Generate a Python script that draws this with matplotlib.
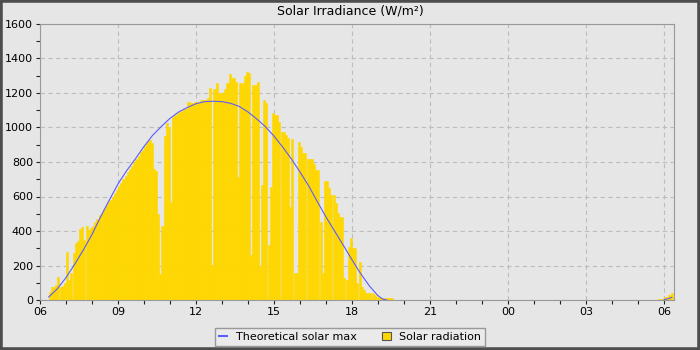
import numpy as np
import matplotlib
matplotlib.use("Agg")
import matplotlib.pyplot as plt
from matplotlib.patches import Patch, Rectangle
from matplotlib.lines import Line2D
from matplotlib.ticker import MultipleLocator, FuncFormatter

gold = "#FFD700"
line_blue = "#5c5cff"
bg = "#e6e6e6"

# solar radiation, 5-minute samples starting 06:20
step_h = 5 / 60
day_start = 6 + 20 / 60
day_radiation = [
    45, 73, 73, 85, 131, 77, 80, 97, 280, 116, 155, 270, 332, 340, 410, 425,
    345, 429, 406, 420, 430, 450, 470, 490, 505, 525, 545, 562, 580, 598, 620,
    640, 660, 680, 700, 720, 740, 758, 778, 800, 815, 835, 860, 872, 895, 912,
    930, 912, 760, 748, 500, 150, 431, 950, 1024, 1000, 570, 1059, 1070, 1085,
    1090, 1095, 1105, 1110, 1150, 1140, 1140, 1145, 1150, 1150, 1160, 1160,
    1160, 1170, 1227, 203, 1221, 1256, 1198, 1198, 1198, 1221, 1256, 1310,
    1285, 1285, 1265, 715, 1260, 1260, 1298, 1323, 1318, 261, 1246, 1246, 1265,
    200, 667, 1159, 1140, 319, 657, 1086, 1072, 1072, 1034, 976, 976, 956, 937,
    541, 931, 155, 155, 918, 889, 850, 850, 815, 815, 815, 790, 753, 753, 454,
    155, 692, 692, 647, 609, 609, 560, 502, 483, 483, 126, 116, 309, 357, 299,
    299, 97, 222, 77, 58, 39, 39, 39, 39, 30, 19, 19, 12, 12, 12, 12, 12, 10,
]
# next morning, starting 05:45 (hours past 24)
morning_start = 24 + 5 + 45 / 60
morning_radiation = [4, 4, 4, 15, 15, 29, 42]

# theoretical solar max (hour of day, W/m2)
theory_hours = [6.333, 6.667, 7.0, 7.333, 7.667, 8.0, 8.333, 8.667, 9.0, 9.333,
                9.667, 10.0, 10.333, 10.667, 11.0, 11.333, 11.667, 12.0, 12.333,
                12.667, 13.0, 13.333, 13.667, 14.0, 14.333, 14.667, 15.0, 15.333,
                15.667, 16.0, 16.333, 16.667, 17.0, 17.333, 17.667, 18.0, 18.333,
                18.667, 19.0, 19.167, 19.333]
theory_values = [17, 65, 130, 207, 290, 380, 483, 580, 673, 750, 818, 890, 955,
                 1006, 1053, 1090, 1116, 1138, 1150, 1152, 1150, 1140, 1122, 1090,
                 1050, 1005, 950, 887, 818, 742, 662, 570, 481, 399, 317, 233, 153,
                 82, 25, 7, 0]
theory_morning_hours = [30.0, 30.167, 30.3]
theory_morning_values = [2, 8, 15]

fig = plt.figure(figsize=(7, 3.5), dpi=100, facecolor=bg)
ax = fig.add_axes([40 / 700, 1 - 300 / 350, 634.4 / 700, 276 / 350])
ax.set_facecolor(bg)

day_x = day_start + np.arange(len(day_radiation)) * step_h
morn_x = morning_start + np.arange(len(morning_radiation)) * step_h
for xs, vals in [(day_x, day_radiation), (morn_x, morning_radiation)]:
    ax.bar(xs, vals, width=step_h, align="edge", color=gold, edgecolor=gold,
           linewidth=0.4, zorder=2)

ax.plot(theory_hours, theory_values, color=line_blue, linewidth=0.8, zorder=3)
ax.plot(theory_morning_hours, theory_morning_values, color=line_blue, linewidth=0.8, zorder=3)

ax.set_xlim(6.0, 30.4)
ax.set_ylim(0, 1600)
ax.xaxis.set_major_locator(MultipleLocator(3))
ax.xaxis.set_minor_locator(MultipleLocator(1))
ax.xaxis.set_major_formatter(FuncFormatter(lambda v, p: f"{int(round(v)) % 24:02d}"))
ax.yaxis.set_major_locator(MultipleLocator(200))
ax.yaxis.set_minor_locator(MultipleLocator(100))
ax.tick_params(which="both", length=3, width=0.8, color="#222222", labelsize=8, pad=2)
ax.grid(True, which="major", linestyle=(0, (4, 3)), color="#bdbdbd", linewidth=0.8, zorder=0)
ax.set_axisbelow(True)
for s in ax.spines.values():
    s.set_color("#999999")

fig.text(0.5, 1 - 11 / 350, "Solar Irradiance (W/m²)", ha="center", va="center", fontsize=9)

handles = [Line2D([0], [0], color=line_blue, linewidth=1.5),
           Patch(facecolor=gold, edgecolor="#555555", linewidth=0.8)]
leg = fig.legend(handles, ["Theoretical solar max", "Solar radiation"], ncol=2,
                 loc="center", bbox_to_anchor=(0.5, 1 - 337 / 350), fontsize=8,
                 frameon=True, fancybox=False, handlelength=0.8, handleheight=0.8,
                 columnspacing=2.2, borderpad=0.35, handletextpad=0.8)
leg.get_frame().set_edgecolor("#999999")
leg.get_frame().set_facecolor("#eaeaea")
leg.get_frame().set_alpha(1)

fig.patches.append(Rectangle((0, 0), 1, 1, transform=fig.transFigure, fill=False,
                             edgecolor="#4d4d4d", linewidth=4))

fig.savefig("out.png", dpi=100, facecolor=bg)
